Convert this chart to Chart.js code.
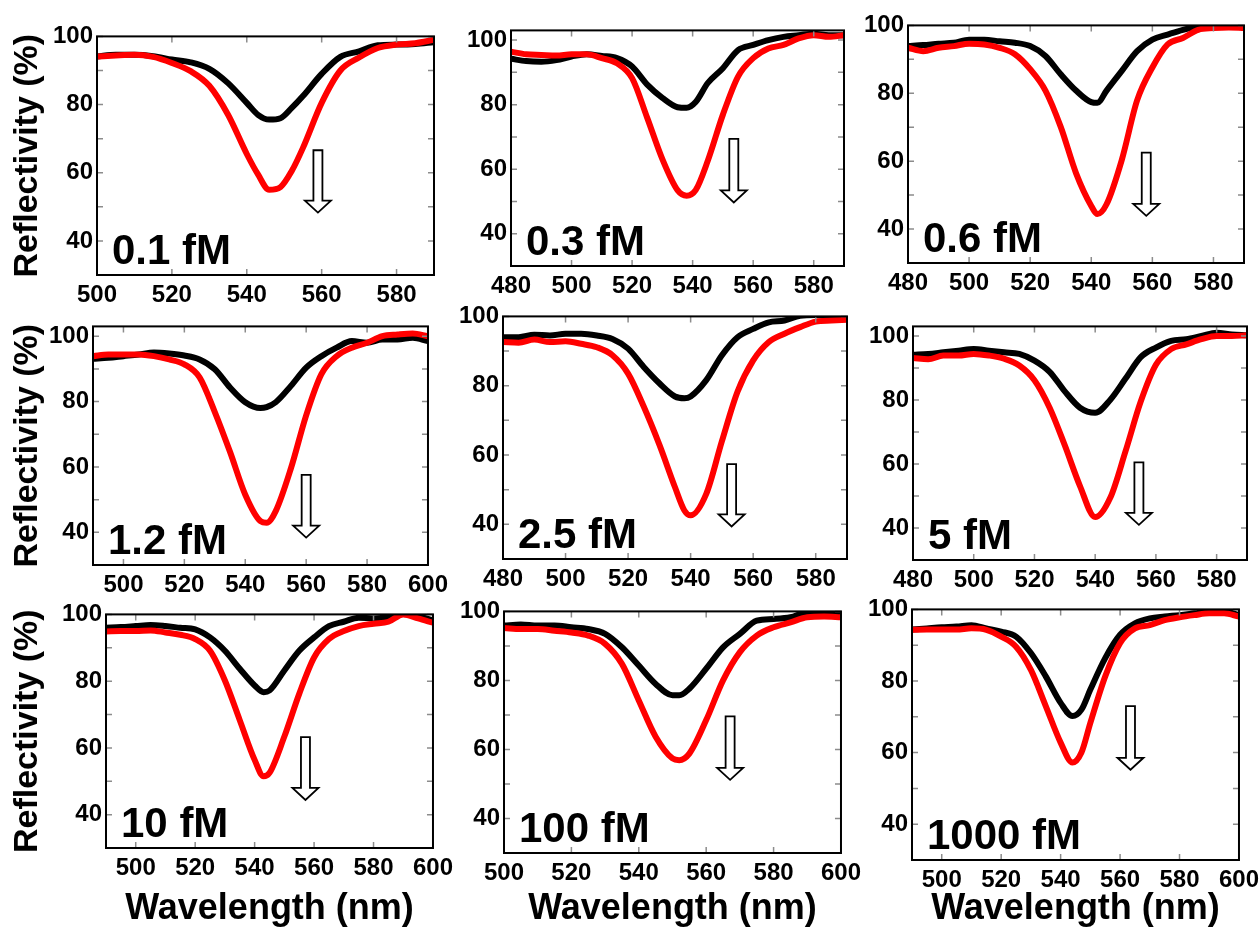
<!DOCTYPE html>
<html>
<head>
<meta charset="utf-8">
<title>Reflectivity spectra</title>
<script src="https://cdn.jsdelivr.net/npm/chart.js@4.4.1/dist/chart.umd.min.js"></script>
<style>
  html, body { margin: 0; padding: 0; background: #fff; }
  body { width: 1260px; height: 937px; position: relative; overflow: hidden; }
  canvas { position: absolute; }
</style>
</head>
<body>
<script>
// concentrations, one panel each
const concLabels = ['0.1 fM', '0.3 fM', '0.6 fM', '1.2 fM', '2.5 fM', '5 fM', '10 fM', '100 fM', '1000 fM'];

// wavelength (nm) and reflectivity (%) per panel: black = before, red = after
const wl1 = [500,505,510,515,520,525,530,535,540,543,546,549,552,555,560,565,570,575,580,585,590];
const black1 = [94.1,94.6,94.6,94.2,93.2,92.4,90.5,86.3,80.5,77.0,75.6,76.0,79.0,82.5,89.0,94.0,95.6,97.4,97.6,97.8,98.3];
const red1 = [94.1,94.4,94.6,94.0,92.2,89.8,85.5,77.0,65.5,59.5,55.0,55.8,60.5,67.3,80.5,90.0,93.8,96.6,97.6,98.0,99.0];

const wl2 = [480,485,490,495,500,505,510,515,520,525,530,535,538,541,545,550,555,560,565,570,575,580,585,590];
const black2 = [94.2,93.5,93.3,93.8,94.9,95.6,95.1,94.4,91.8,86.2,82.1,79.2,79.0,80.8,86.7,91.3,96.9,98.5,100,101,101.5,102,101.5,101.5];
const red2 = [96.4,95.6,95.4,95.2,95.6,95.6,94.4,92.8,88.2,75.9,63.1,53.5,51.8,53.5,62.6,76.9,88.7,94.4,97.4,98.5,100.5,101.5,101,101.5];

const wl3 = [480,485,490,495,500,505,510,515,520,525,530,535,540,542,545,550,555,560,565,570,575,580,585,590];
const black3 = [93.9,94.2,94.6,94.9,95.8,95.8,95.3,94.9,93.9,91.0,85.6,80.8,77.4,77.2,80.8,86.6,92.4,95.8,97.3,98.7,99.7,100.4,100.2,100];
const red3 = [93.4,92.4,93.4,93.9,94.6,94.4,93.4,91.5,87.1,80.8,70.1,56.5,46.8,44.4,47.3,60.4,77.9,87.6,94.4,96.3,98.7,99.2,99.4,99.2];

const wl4 = [490,495,500,505,510,515,520,525,530,535,540,545,547,550,555,560,565,570,575,580,585,590,595,600];
const black4 = [93.1,93.4,93.9,94.4,95,94.7,94.1,92.9,89.9,84.3,79.8,78,78.3,79.8,84.8,90.4,93.9,96.5,98.5,98,99,99,99.5,98.5];
const red4 = [93.9,94.4,94.4,94.4,93.9,92.9,91.4,87.4,76.8,64.6,51.5,43.4,42.9,46.5,59.6,75.8,88.4,93.9,96.5,98,100,100.5,100.8,100];

const wl5 = [480,485,490,495,500,505,510,515,520,525,530,535,538,540,545,550,555,560,565,570,575,580,585,590];
const black5 = [94,94,94.7,94.5,95,95,94.5,93.5,90.7,85.4,80.7,76.9,76.4,76.9,81.6,88.8,94,96.4,98.3,98.8,100.2,100.4,100,100.2];
const red5 = [92.6,92.4,93.3,92.6,92.8,92.1,91.1,88.8,83.5,74,63,50.7,44,42.6,48.8,64,78.3,87.3,92.6,95,96.9,98.5,98.8,99];

const wl6 = [480,485,490,495,500,505,510,515,520,525,530,535,540,545,550,555,560,565,570,575,580,585,590];
const black6 = [94.1,94.4,94.9,95.4,95.9,95.4,94.9,94.4,92.3,88.8,82.7,77.6,76,80.1,86.7,93.4,96.4,98.5,99,100,101,100.5,100.2];
const red6 = [93.1,92.7,93.9,93.9,94.4,93.9,92.9,90.8,86.2,77.6,65.8,53.1,43.4,49.5,64.0,79.5,91.0,95.9,97.4,99,100,100,100.2];

const wl7 = [490,495,500,505,510,515,520,525,530,535,540,543,545,550,555,560,565,570,575,580,585,590,595,600];
const black7 = [96,96.2,96.5,96.8,96.5,96,95.5,93.1,89.1,83.7,78.7,76.7,77.2,83.2,89.1,93.1,96.5,97.8,99,98.8,99.2,100.5,99.5,98.2];
const red7 = [94.9,95,95,95.2,94.6,93.9,92.6,89.1,80.2,68.3,56.4,51.5,52.5,63.4,76.2,87.1,92.6,95,96.5,97.2,97.8,100,98.8,97.5];

const wl8 = [500,505,510,515,520,525,530,535,540,545,550,552,555,560,565,570,575,580,585,590,595,600];
const black8 = [95.9,96.2,95.9,95.9,95.4,94.9,93.5,89.6,84.3,79,75.7,75.7,77.6,83.4,89.6,93.5,97.3,97.8,98.3,99.7,99.7,99.7];
const red8 = [95.2,94.9,94.9,94.4,93.9,93,90.6,84.8,74.2,63.7,57.4,56.9,58.8,68.5,80,88.2,93,95.4,96.8,98.3,98.5,98.3];

const wl9 = [490,495,500,505,510,515,520,525,530,535,540,544,547,550,555,560,565,570,575,580,585,590,595,600];
const black9 = [94.4,94.7,95,95.2,95.6,94.7,93.8,92.4,87.8,81.3,73.9,70.2,72,77.6,86.4,92.9,96.1,97.5,98,98.4,98.9,99.4,99.4,98.4];
const red9 = [94.3,94.4,94.4,94.4,94.7,94.3,92.4,89.6,83.1,73,62.8,57.2,60,68.3,81.3,90.6,94.7,95.6,97,97.8,98.4,98.9,98.9,98];

// axis ranges and tick labels
const xMin = [500, 480, 480, 490, 480, 480, 490, 500, 490];
const xMax = [590, 590, 590, 600, 590, 590, 600, 600, 600];
const yMax = [100, 103, 100, 103, 100, 103, 100, 100, 100];
const yTicks = [40, 60, 80, 100];
const xTicks480 = [480, 500, 520, 540, 560, 580];
const xTicks500 = [500, 520, 540, 560, 580];
const xTicks600 = [500, 520, 540, 560, 580, 600];
const xTickSets = [xTicks500, xTicks480, xTicks480, xTicks600, xTicks480, xTicks480, xTicks600, xTicks600, xTicks600];

// down arrows: wavelength, top and tip reflectivity
const arrowX = [559, 553.6, 558, 560, 553.1, 554.4, 557.1, 567.1, 563.5];
const arrowTop = [66.6, 69.4, 62.5, 57.6, 57.4, 60.5, 63.2, 69.6, 73];
const arrowTip = [48.3, 49.7, 43.9, 38.4, 39.4, 41, 44.4, 51.2, 55.2];

const series = [
  [wl1, black1, red1], [wl2, black2, red2], [wl3, black3, red3],
  [wl4, black4, red4], [wl5, black5, red5], [wl6, black6, red6],
  [wl7, black7, red7], [wl8, black8, red8], [wl9, black9, red9]
];

// plot area of each panel on the page: left, top, right, bottom
const boxes = [
  [97, 34, 434, 275], [511, 28, 844, 266], [908, 23, 1244, 263],
  [93, 324, 432, 565], [503, 314, 847, 559], [913, 324, 1247, 560],
  [106, 612, 437, 848], [504, 609, 845, 853], [912, 607, 1243, 860]
];

const FONT = "'Liberation Sans', Arial, Helvetica, sans-serif";
Chart.defaults.font.family = FONT;
Chart.defaults.font.weight = 'bold';
Chart.defaults.color = '#000';

// frame, inward ticks, arrow and concentration label
const panelDecor = {
  id: 'panelDecor',
  afterDatasetsDraw(chart, args, opts) {
    const { ctx, chartArea: a, scales: { x, y } } = chart;
    ctx.save();

    ctx.strokeStyle = '#8c8c8c';
    ctx.lineWidth = 1.5;
    ctx.beginPath();
    opts.xTicks.forEach(v => {
      const px = x.getPixelForValue(v);
      ctx.moveTo(px, a.top); ctx.lineTo(px, a.top + 6);
      ctx.moveTo(px, a.bottom); ctx.lineTo(px, a.bottom - 6);
    });
    for (let v = 40; v <= 100; v += 10) {
      const py = y.getPixelForValue(v);
      ctx.moveTo(a.left, py); ctx.lineTo(a.left + 6, py);
      ctx.moveTo(a.right, py); ctx.lineTo(a.right - 6, py);
    }
    ctx.stroke();

    ctx.strokeStyle = '#000';
    ctx.lineWidth = 2;
    ctx.strokeRect(a.left, a.top, a.width, a.height);

    // hollow arrow
    const cx = x.getPixelForValue(opts.arrow[0]);
    const top = y.getPixelForValue(opts.arrow[1]);
    const tip = y.getPixelForValue(opts.arrow[2]);
    const head = tip - 12;
    ctx.beginPath();
    ctx.moveTo(cx - 4.5, top);
    ctx.lineTo(cx + 4.5, top);
    ctx.lineTo(cx + 4.5, head);
    ctx.lineTo(cx + 13, head);
    ctx.lineTo(cx, tip);
    ctx.lineTo(cx - 13, head);
    ctx.lineTo(cx - 4.5, head);
    ctx.closePath();
    ctx.fillStyle = '#fff';
    ctx.fill();
    ctx.lineWidth = 1.8;
    ctx.stroke();

    ctx.fillStyle = '#000';
    ctx.font = 'bold 42px ' + FONT;
    ctx.textAlign = 'left';
    ctx.textBaseline = 'alphabetic';
    ctx.fillText(opts.label, a.left + 15, a.bottom - 11);
    ctx.restore();
  }
};

const PAD_TOP = 16, PAD_RIGHT = 22;

series.forEach(([wl, black, red], i) => {
  const row = Math.floor(i / 3), col = i % 3;
  const [L, T, R, B] = boxes[i];
  const yW = col === 0 ? L : 60;
  const xH = row === 2 ? 937 - B : 40;

  const canvas = document.createElement('canvas');
  canvas.width = (R - L) + yW + PAD_RIGHT;
  canvas.height = (B - T) + PAD_TOP + xH;
  canvas.style.left = (L - yW) + 'px';
  canvas.style.top = (T - PAD_TOP) + 'px';
  document.body.appendChild(canvas);

  const line = (vals, color) => ({
    data: wl.map((w, k) => ({ x: w, y: vals[k] })),
    borderColor: color,
    borderWidth: 6,
    pointRadius: 0,
    cubicInterpolationMode: 'monotone',
    fill: false
  });

  new Chart(canvas, {
    type: 'line',
    data: { datasets: [line(red, '#ff0000'), line(black, '#000000')] },
    plugins: [panelDecor],
    options: {
      responsive: false,
      animation: false,
      layout: { padding: { top: PAD_TOP, right: PAD_RIGHT, left: 0, bottom: 0 } },
      plugins: {
        legend: { display: false },
        tooltip: { enabled: false },
        panelDecor: {
          xTicks: xTickSets[i],
          arrow: [arrowX[i], arrowTop[i], arrowTip[i]],
          label: concLabels[i]
        }
      },
      scales: {
        x: {
          type: 'linear',
          min: xMin[i],
          max: xMax[i],
          afterBuildTicks: s => { s.ticks = xTickSets[i].map(v => ({ value: v })); },
          afterFit: s => { s.height = xH; },
          grid: { display: false, drawTicks: false },
          border: { display: false },
          ticks: { font: { size: 24, weight: 'bold' }, padding: 6, maxRotation: 0, autoSkip: false },
          title: {
            display: row === 2,
            text: 'Wavelength (nm)',
            font: { size: 36, weight: 'bold' },
            padding: { top: 0, bottom: 6 }
          }
        },
        y: {
          min: 30,
          max: yMax[i],
          afterBuildTicks: s => { s.ticks = yTicks.map(v => ({ value: v })); },
          afterFit: s => { s.width = yW; },
          grid: { display: false, drawTicks: false },
          border: { display: false },
          ticks: { font: { size: 24, weight: 'bold' }, padding: 4 },
          title: {
            display: col === 0,
            text: 'Reflectivity (%)',
            font: { size: 34, weight: 'bold' },
            padding: { top: 7, bottom: 0 }
          }
        }
      }
    }
  });
});
</script>
</body>
</html>
